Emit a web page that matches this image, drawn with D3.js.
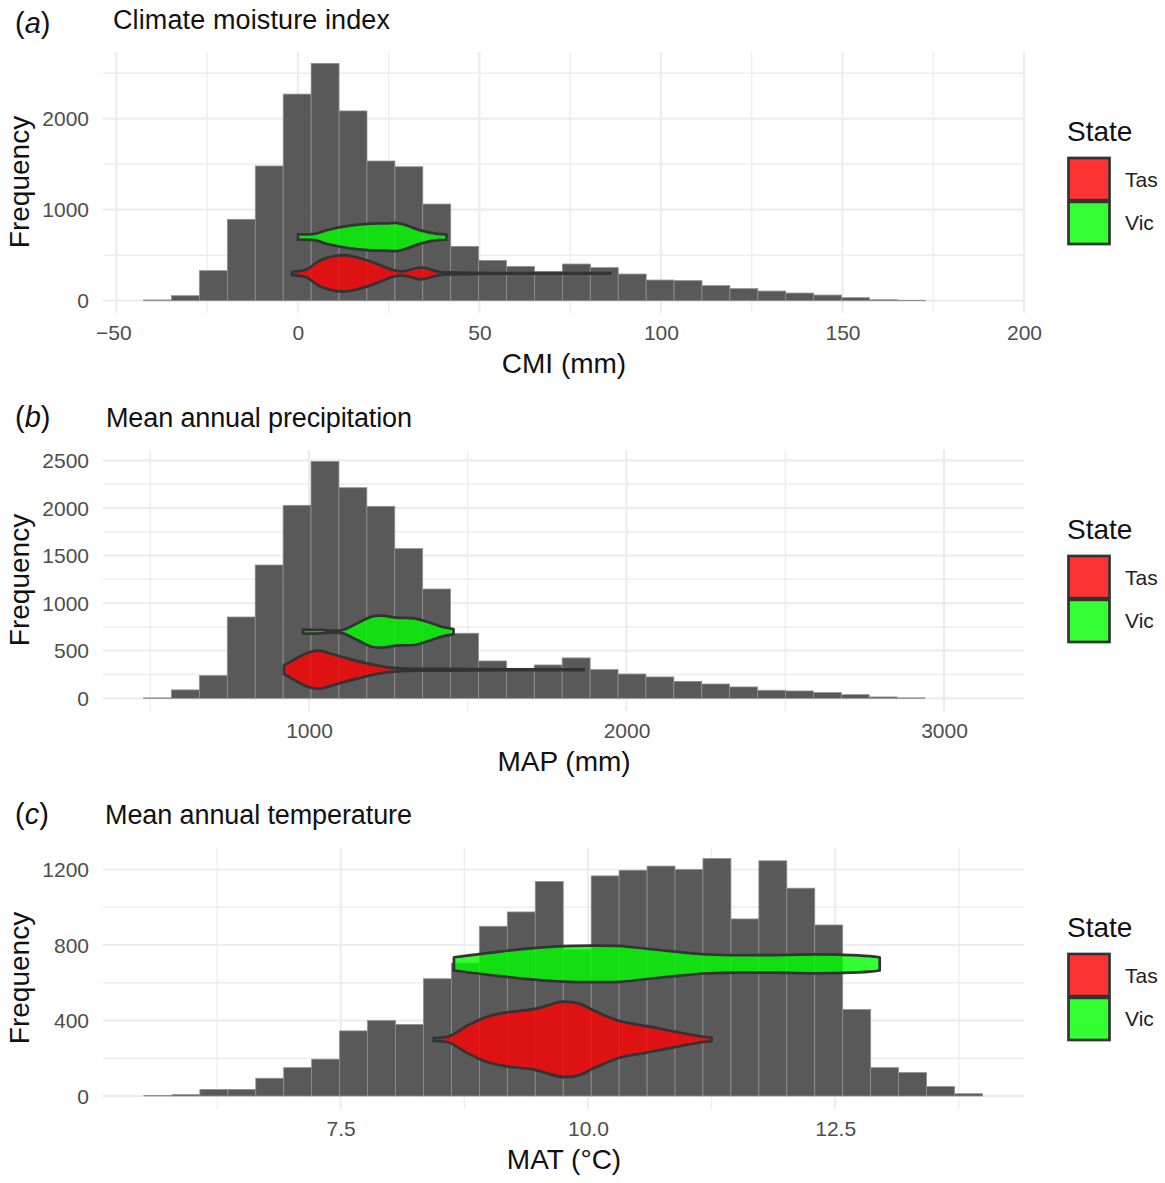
<!DOCTYPE html>
<html>
<head>
<meta charset="utf-8">
<script src="https://cdn.jsdelivr.net/npm/d3@7"></script>
<style>
  html, body { margin: 0; padding: 0; background: #fff; }
  svg { display: block; font-family: "Liberation Sans", Arial, sans-serif; }
</style>
</head>
<body>
<svg id="chart" width="1165" height="1183"></svg>
<script>
// histogram counts, 30 bins per panel
const cmiCounts = [8, 55, 330, 894, 1480, 2270, 2608, 2085, 1535, 1472, 1062, 597, 443, 377, 319, 403, 363, 293, 227, 220, 165, 132, 106, 84, 62, 33, 10, 4, 0, 0];
const mapCounts = [4, 88, 238, 854, 1400, 2027, 2489, 2212, 2016, 1572, 1148, 683, 392, 315, 350, 424, 301, 255, 224, 178, 150, 119, 84, 77, 60, 38, 14, 4, 0, 0];
const matCounts = [3, 7, 35, 35, 94, 150, 195, 345, 400, 379, 621, 704, 899, 975, 1136, 775, 1166, 1196, 1218, 1200, 1258, 938, 1246, 1101, 906, 458, 150, 124, 50, 12];

const cmiBins = { start: -42.5, width: 7.69 };
const mapBins = { start: 479, width: 87.9 };
const matBins = { start: 5.511, width: 0.2826 };

// violins: value along x, half width in frequency units
const cmiVicX = [0, 4.5, 8.4, 14.3, 19.2, 24.2, 27.1, 30.1, 34, 38.4, 40.9];
const cmiVicHalf = [30, 35, 80, 125, 145, 150, 155, 125, 70, 35, 30];
const cmiTasX = [-1.6, 2.5, 5.5, 8.4, 12.9, 16.3, 21.2, 25.2, 28.6, 34, 38.9, 43.9, 47.8, 63.5, 86];
const cmiTasHalf = [18, 45, 130, 175, 200, 175, 115, 50, 22, 65, 18, 10, 6, 3, 3];

const mapVicX = [981, 1039, 1073, 1107, 1152, 1197, 1230, 1275, 1332, 1376, 1421, 1455];
const mapVicHalf = [21, 18, 10, 18, 88, 158, 168, 147, 140, 98, 49, 28];
const mapTasX = [921, 949, 994, 1030, 1073, 1129, 1197, 1242, 1309, 1410, 1523, 1866];
const mapTasHalf = [45, 98, 175, 200, 165, 112, 56, 28, 12, 10, 6, 3];

const matVicX = [8.645, 9.11, 9.45, 9.75, 10.03, 10.32, 10.6, 10.88, 11.17, 11.45, 11.73, 12.02, 12.3, 12.58, 12.85, 12.95];
const matVicHalf = [35, 65, 83, 94, 97, 95, 80, 65, 51, 46, 46, 48, 50, 48, 41, 35];
const matTasX = [8.44, 8.6, 8.77, 8.98, 9.18, 9.45, 9.75, 9.92, 10.05, 10.32, 10.6, 10.88, 11.17, 11.25];
const matTasHalf = [8, 18, 70, 120, 143, 160, 200, 188, 155, 97, 70, 41, 14, 10];

const vicCentre = 700;
const tasCentre = 300;

const states = ["Tas", "Vic"];
const stateColours = { Tas: "rgba(255,0,0,0.8)", Vic: "rgba(0,255,0,0.8)" };

const panels = [
  {
    tag: "a", tagY: 33, title: "Climate moisture index", titleX: 113, titleY: 28.5, titleLen: 277, xTitle: "CMI (mm)",
    counts: cmiCounts, bins: cmiBins,
    xDomain: [-50, 200], xRange: [116.4, 1024],
    yDomain: [0, 2000], yRange: [300.7, 118.7],
    xMajor: [-50, 0, 50, 100, 150, 200], xMinor: [-25, 25, 75, 125, 175],
    yMajor: [0, 1000, 2000], yMinor: [500, 1500, 2500],
    vic: [cmiVicX, cmiVicHalf], tas: [cmiTasX, cmiTasHalf]
  },
  {
    tag: "b", tagY: 29, title: "Mean annual precipitation", titleX: 106, titleY: 29, titleLen: 306, xTitle: "MAP (mm)",
    counts: mapCounts, bins: mapBins,
    xDomain: [1000, 3000], xRange: [309, 944],
    yDomain: [0, 2500], yRange: [300.3, 62.3],
    xMajor: [1000, 2000, 3000], xMinor: [500, 1500, 2500],
    yMajor: [0, 500, 1000, 1500, 2000, 2500], yMinor: [250, 750, 1250, 1750, 2250],
    vic: [mapVicX, mapVicHalf], tas: [mapTasX, mapTasHalf]
  },
  {
    tag: "c", tagY: 28, title: "Mean annual temperature", titleX: 105, titleY: 28, titleLen: 307, xTitle: "MAT (°C)",
    counts: matCounts, bins: matBins,
    xDomain: [7.5, 12.5], xRange: [340.7, 835.2],
    yDomain: [0, 1200], yRange: [300, 73.5],
    xMajor: [7.5, 10, 12.5], xMinor: [6.25, 8.75, 11.25, 13.75],
    yMajor: [0, 400, 800, 1200], yMinor: [200, 600, 1000],
    vic: [matVicX, matVicHalf], tas: [matTasX, matTasHalf]
  }
];

const svg = d3.select("#chart");
const panelStep = 398;
const panelLeft = 103, panelRight = 1024, panelTop = 52, panelBottom = 313;
const gridColour = "#ededed";

panels.forEach((p, i) => {
  const g = svg.append("g").attr("transform", `translate(0,${i * panelStep})`);
  const x = d3.scaleLinear().domain(p.xDomain).range(p.xRange);
  const y = d3.scaleLinear().domain(p.yDomain).range(p.yRange);

  // grid
  const grid = g.append("g").attr("stroke", gridColour).attr("fill", "none");
  const hLines = (vals, w) => grid.append("g").selectAll("line").data(vals).join("line")
    .attr("x1", panelLeft).attr("x2", panelRight)
    .attr("y1", d => y(d)).attr("y2", d => y(d)).attr("stroke-width", w);
  const vLines = (vals, w) => grid.append("g").selectAll("line").data(vals).join("line")
    .attr("y1", panelTop).attr("y2", panelBottom)
    .attr("x1", d => x(d)).attr("x2", d => x(d)).attr("stroke-width", w);
  hLines(p.yMinor, 1.5);
  vLines(p.xMinor, 1.3);
  hLines(p.yMajor, 2.2);
  vLines(p.xMajor, 2.2);

  // histogram, empty bins draw nothing
  g.append("g").selectAll("rect").data(p.counts.map((c, k) => [c, k]).filter(d => d[0] > 0)).join("rect")
    .attr("x", d => x(p.bins.start + d[1] * p.bins.width))
    .attr("width", x(p.bins.start + p.bins.width) - x(p.bins.start))
    .attr("y", d => y(d[0]))
    .attr("height", d => y(0) - y(d[0]))
    .attr("fill", "#595959")
    .attr("stroke", "#8f8f8f")
    .attr("stroke-width", 0.8);

  // violins
  const drawViolin = (pair, centre, state) => {
    const pts = d3.zip(pair[0], pair[1]);
    const area = d3.area()
      .x(d => x(d[0]))
      .y0(d => y(centre - d[1]))
      .y1(d => y(centre + d[1]))
      .curve(d3.curveCatmullRom.alpha(0.5));
    g.append("path")
      .attr("d", area(pts))
      .attr("fill", stateColours[state])
      .attr("stroke", "#333333")
      .attr("stroke-width", 2.7)
      .attr("stroke-linejoin", "round");
  };
  drawViolin(p.tas, tasCentre, "Tas");
  drawViolin(p.vic, vicCentre, "Vic");

  // axes
  const fmt = d => (d < 0 ? "\u2212" + Math.abs(d) : String(d));
  const xAxis = d3.axisBottom(x).tickValues(p.xMajor).tickSize(0).tickPadding(0)
    .tickFormat(d => (p.tag === "c" ? d.toFixed(1) : fmt(d)));
  const yAxis = d3.axisLeft(y).tickValues(p.yMajor).tickSize(0).tickPadding(0)
    .tickFormat(fmt);
  const styleAxis = sel => {
    sel.select(".domain").remove();
    sel.selectAll("text").attr("fill", "#4d4d4d").style("font-size", "21px")
      .style("font-family", "'Liberation Sans', Arial, sans-serif");
  };
  const xg = g.append("g").attr("transform", `translate(0,${panelBottom + 12})`).call(xAxis).call(styleAxis);
  xg.selectAll("text").filter(d => d < 0).attr("dx", -3);
  g.append("g").attr("transform", "translate(89,0.5)").call(yAxis).call(styleAxis);

  // titles
  const tag = g.append("text").attr("x", 15).attr("y", p.tagY).style("font-size", "29px").attr("fill", "#111");
  tag.append("tspan").text("(");
  tag.append("tspan").style("font-style", "italic").text(p.tag);
  tag.append("tspan").text(")");
  g.append("text").attr("x", p.titleX).attr("y", p.titleY).style("font-size", "27px")
    .attr("textLength", p.titleLen).attr("fill", "#111").text(p.title);
  g.append("text").attr("x", 564).attr("y", 373).attr("text-anchor", "middle")
    .style("font-size", "28px").attr("fill", "#111").text(p.xTitle);
  g.append("text").attr("transform", "translate(29,182) rotate(-90)")
    .attr("text-anchor", "middle").style("font-size", "28px")
    .attr("fill", "#111").text("Frequency");

  // legend
  const legend = g.append("g");
  legend.append("text").attr("x", 1067).attr("y", 141).style("font-size", "28px")
    .attr("fill", "#111").text("State");
  const keyY = d3.scaleBand().domain(states).range([158, 244]).paddingInner(0.04);
  legend.selectAll("rect").data(states).join("rect")
    .attr("x", 1068.5).attr("y", d => keyY(d))
    .attr("width", 41).attr("height", keyY.bandwidth())
    .attr("fill", d => stateColours[d])
    .attr("stroke", "#333333").attr("stroke-width", 2.7);
  legend.selectAll("text.key").data(states).join("text")
    .attr("class", "key")
    .attr("x", 1125).attr("y", d => keyY(d) + keyY.bandwidth() / 2 + 7.5)
    .style("font-size", "21px").attr("fill", "#222").text(d => d);
});
</script>
</body>
</html>
